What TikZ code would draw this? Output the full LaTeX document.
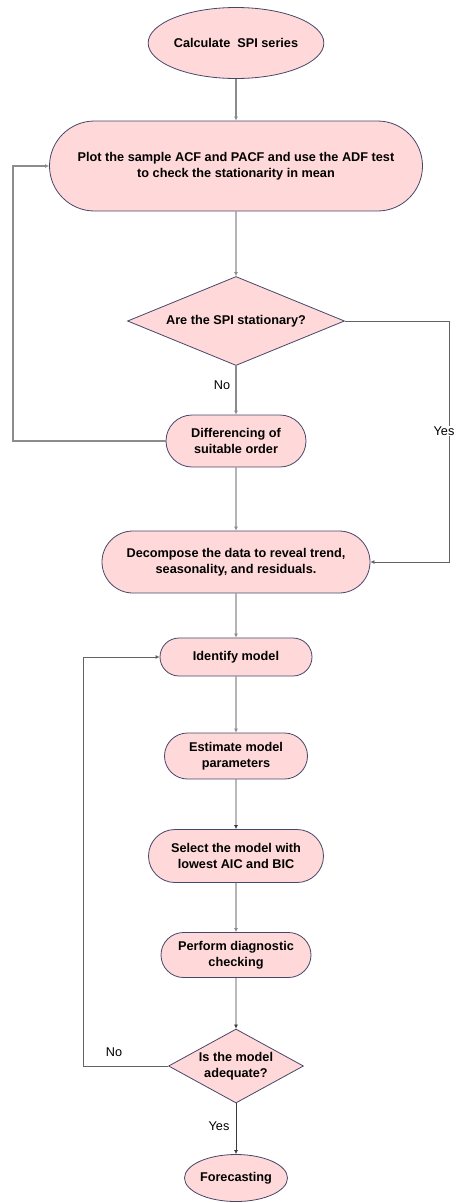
\documentclass[tikz,border=0pt]{standalone}
\usepackage{fontspec}
\setmainfont{Liberation Sans}
\usetikzlibrary{shapes.geometric,shapes.misc,arrows.meta}

\definecolor{boxfill}{HTML}{FFD9D9}
\definecolor{boxdraw}{HTML}{46466A}
\definecolor{greyline}{HTML}{8C8C8C}
\definecolor{darkline}{HTML}{3C3C3C}

\begin{document}
\begin{tikzpicture}[x=1pt,y=-1pt,
  every node/.style={font=\fontsize{12.7}{16}\selectfont},
  term node/.style={ellipse,draw=boxdraw,fill=boxfill,line width=0.8pt,font=\fontsize{12.7}{16}\selectfont\bfseries,inner sep=0pt},
  proc node/.style={rounded rectangle,draw=boxdraw,fill=boxfill,line width=0.8pt,font=\fontsize{12.7}{16}\selectfont\bfseries,align=center,inner sep=0pt},
  test node/.style={diamond,draw=boxdraw,fill=boxfill,line width=0.8pt,font=\fontsize{12.7}{16}\selectfont\bfseries,align=center,inner sep=0pt},
  grey arrow/.style={draw=greyline,line width=1.1pt,-{Latex[length=4pt,width=4pt]}},
  dark arrow/.style={draw=darkline,line width=0.7pt,-{Latex[length=4pt,width=4pt]}}]

  \useasboundingbox (0,0) rectangle (456,1203);

  \node[term node,minimum width=162pt,minimum height=71pt] (calc) at (236,43) {Calculate\ \ SPI series};
  \node[proc node,minimum width=373pt,minimum height=90pt] (plot) at (236,166) {Plot the sample ACF and PACF and use the ADF test\\to check the stationarity in mean};
  \node[test node,shape aspect=2.44,minimum width=217pt,minimum height=89pt] (stat) at (236,321) {Are the SPI stationary?};
  \node[proc node,minimum width=140pt,minimum height=52pt] (diff) at (236,441) {Differencing of\\suitable order};
  \node[proc node,minimum width=268pt,minimum height=62pt] (dec) at (236,562) {Decompose the data to reveal trend,\\seasonality, and residuals.};
  \node[proc node,minimum width=152pt,minimum height=38pt] (ident) at (236,657) {Identify model};
  \node[proc node,minimum width=143pt,minimum height=46pt] (est) at (236,756) {Estimate model\\parameters};
  \node[proc node,minimum width=175pt,minimum height=53pt] (sel) at (236,856) {Select the model with\\lowest AIC and BIC};
  \node[proc node,minimum width=150pt,minimum height=45pt] (diag) at (236,955) {Perform diagnostic\\checking};
  \node[test node,shape aspect=1.82,minimum width=135pt,minimum height=74pt] (ade) at (236,1066) {Is the model\\adequate?};
  \node[term node,minimum width=103pt,minimum height=47pt] (fore) at (236,1178) {Forecasting};

  \coordinate (lp) at (13,441);
  \coordinate (rp) at (449,321);
  \coordinate (lq) at (83,1066);

  \draw[grey arrow] (calc) -- (plot);
  \draw[grey arrow] (plot) -- (stat);
  \draw[grey arrow] (stat) -- (diff);
  \draw[grey arrow] (diff) -- (dec);
  \draw[grey arrow] (dec) -- (ident);
  \draw[grey arrow] (ident) -- (est);
  \draw[dark arrow] (est) -- (sel);
  \draw[grey arrow] (sel) -- (diag);
  \draw[dark arrow] (diag) -- (ade);
  \draw[dark arrow] (ade) -- (fore);

  \draw[grey arrow] (diff.west) -- (lp) |- (plot.west);
  \draw[dark arrow,draw=darkline!80] (stat.east) -- (rp) |- (dec.east);
  \draw[dark arrow,draw=darkline!80] (ade.west) -- (lq) |- (ident.west);

  \node (no1) at (222,385) {No};
  \node[fill=white,inner sep=1pt] (yes1) at (444,431) {Yes};
  \node (no2) at (114,1052) {No};
  \node (yes2) at (219,1126) {Yes};
\end{tikzpicture}
\end{document}
